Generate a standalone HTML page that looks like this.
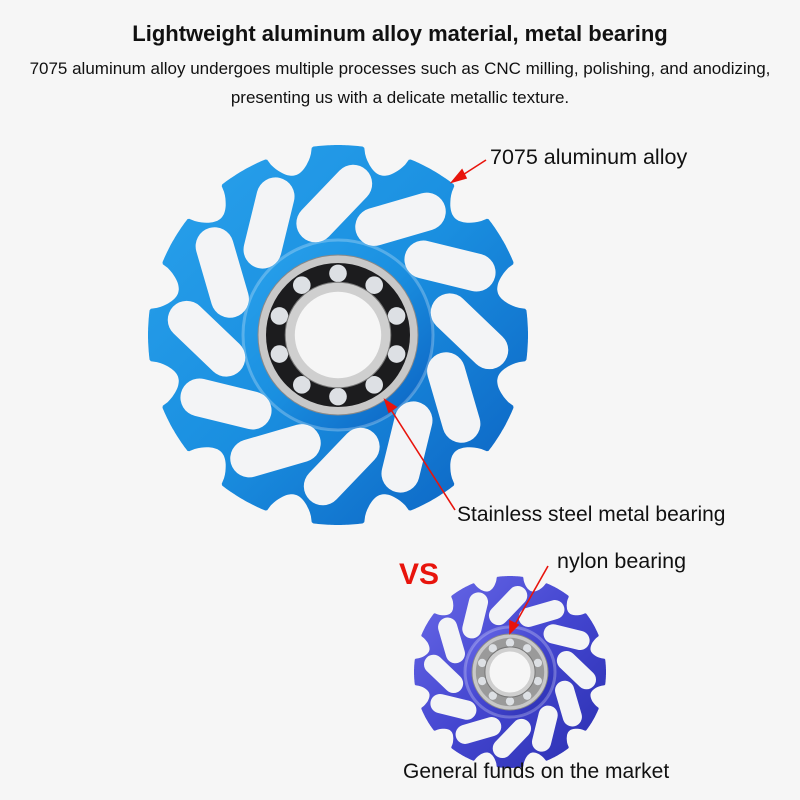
<!DOCTYPE html>
<html><head><meta charset="utf-8"><style>
html,body{margin:0;padding:0;background:#f6f6f6;}
body{width:800px;height:800px;position:relative;overflow:hidden;font-family:"Liberation Sans",sans-serif;}
.t{position:absolute;color:#111;white-space:nowrap;}
</style></head><body>
<svg id="s" width="800" height="800" style="position:absolute;left:0;top:0">
<defs>
<linearGradient id="g1" x1="0" y1="0" x2="1" y2="1">
<stop offset="0" stop-color="#2aa2ec"/><stop offset="0.5" stop-color="#1a8fe0"/><stop offset="1" stop-color="#0b5fc0"/></linearGradient>
<linearGradient id="g2" x1="0" y1="0" x2="1" y2="1">
<stop offset="0" stop-color="#6a6ae8"/><stop offset="0.5" stop-color="#4446d0"/><stop offset="1" stop-color="#2a2fb0"/></linearGradient>
</defs>
<g id="big"></g><g id="small"></g>
<g stroke="#e8140c" stroke-width="1.6" fill="#e8140c">
<line x1="486" y1="160" x2="458" y2="178"/><polygon points="452,182 462,170 466,178"/>
<line x1="455" y1="510" x2="388" y2="405"/><polygon points="385,400 396,407 389,412"/>
<line x1="548" y1="566" x2="513" y2="628"/><polygon points="510,633 510,621 518,625"/>
</g>
</svg>
<div class="t" style="left:0;width:800px;text-align:center;top:21px;font-size:22px;font-weight:bold;">Lightweight aluminum alloy material, metal bearing</div>
<div class="t" style="left:0;width:800px;text-align:center;top:59px;font-size:17px;">7075 aluminum alloy undergoes multiple processes such as CNC milling, polishing, and anodizing,</div>
<div class="t" style="left:0;width:800px;text-align:center;top:88px;font-size:17px;">presenting us with a delicate metallic texture.</div>
<div class="t" style="left:490px;top:145px;font-size:21.5px;">7075 aluminum alloy</div>
<div class="t" style="left:457px;top:503px;font-size:21px;">Stainless steel metal bearing</div>
<div class="t" style="left:399px;top:558px;font-size:30px;font-weight:bold;color:#e8140c;">VS</div>
<div class="t" style="left:557px;top:549px;font-size:21.5px;">nylon bearing</div>
<div class="t" style="left:403px;top:760px;font-size:21px;">General funds on the market</div>
<script>
function gear(id,cx,cy,R,fill,hub,br,sc,n){
 var g=document.getElementById(id),ns="http://www.w3.org/2000/svg",p="",N=720;
 for(var i=0;i<=N;i++){var t=i/N*2*Math.PI;var c=-Math.cos(n*t);var b=c>0.1?Math.pow((c-0.1)/0.9,0.6):0;
  var r=R*(1-0.13*b);p+=(i?"L":"M")+(cx+r*Math.sin(t)).toFixed(1)+","+(cy-r*Math.cos(t)).toFixed(1);}
 function el(tag,a){var e=document.createElementNS(ns,tag);for(var k in a)e.setAttribute(k,a[k]);g.appendChild(e);return e;}
 el("path",{d:p+"Z",fill:fill});
 for(var j=0;j<n;j++){var a0=j/n*2*Math.PI-0.2;var a1=a0+0.3;
  var r0=R*0.6,r1=R*0.8;
  el("line",{x1:cx+r0*Math.sin(a0),y1:cy-r0*Math.cos(a0),x2:cx+r1*Math.sin(a1),y2:cy-r1*Math.cos(a1),stroke:"#f3f4f6","stroke-width":R*0.2,"stroke-linecap":"round"});}
 el("circle",{cx:cx,cy:cy,r:hub,fill:fill});
 el("circle",{cx:cx,cy:cy,r:hub,fill:"none",stroke:"rgba(255,255,255,0.25)","stroke-width":3});
 el("circle",{cx:cx,cy:cy,r:br,fill:"#c8c8c8",stroke:"#888","stroke-width":1});
 el("circle",{cx:cx,cy:cy,r:br*0.9,fill:sc});
 for(var k=0;k<10;k++){var a=k/10*2*Math.PI;el("circle",{cx:cx+br*0.77*Math.sin(a),cy:cy-br*0.77*Math.cos(a),r:br*0.11,fill:"#dde0e4"});}
 el("circle",{cx:cx,cy:cy,r:br*0.66,fill:"#cfcfcf",stroke:"#777","stroke-width":1});
 el("circle",{cx:cx,cy:cy,r:br*0.54,fill:"#f6f6f6"});
}
gear("big",338,335,190,"url(#g1)",95,80,"#1c1c1e",12);
gear("small",510,672,96,"url(#g2)",45,38,"#9a9a9a",12);
</script>
</body></html>
